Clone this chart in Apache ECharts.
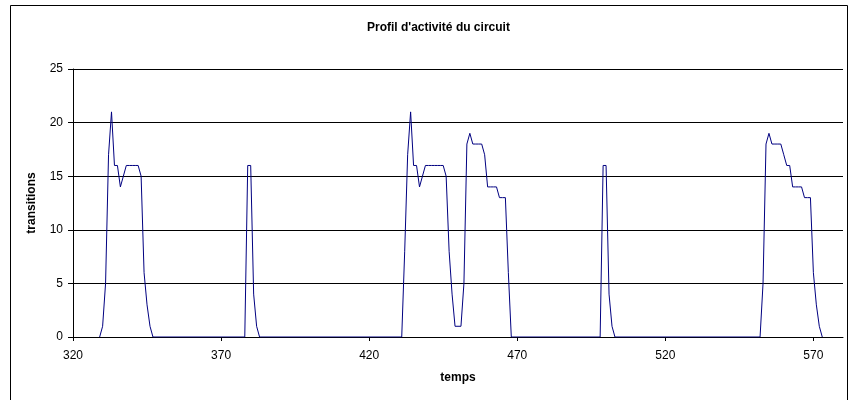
<!DOCTYPE html>
<html>
<head>
<meta charset="utf-8">
<script src="https://cdn.jsdelivr.net/npm/echarts@6/dist/echarts.min.js"></script>
<style>
html,body{margin:0;padding:0;background:#fff;}
#chart{width:851px;height:400px;}
</style>
</head>
<body>
<div id="chart"></div>
<script>
// time (x) and number of transitions (y)
const times = [
  329,330,331,332,333,334,335,336,337,338,339,340,341,342,343,344,345,346,347,
  378,379,380,381,382,383,
  431,432,433,434,435,436,437,438,439,440,441,442,443,444,445,446,447,448,449,450,
  451,452,453,454,455,456,457,458,459,460,461,462,463,464,465,466,467,468,
  498,499,500,501,502,503,
  552,553,554,555,556,557,558,559,560,561,562,563,564,565,566,567,568,569,570,571,572,573
];
const transitions = [
  0,1,5,17,21,16,16,14,15,16,16,16,16,16,15,6,3,1,0,
  0,16,16,4,1,0,
  0,8,17,21,16,16,14,15,16,16,16,16,16,16,16,15,8,4,1,1,
  1,5,18,19,18,18,18,18,17,14,14,14,14,13,13,13,6,0,
  0,16,16,4,1,0,
  0,5,18,19,18,18,18,18,17,16,16,14,14,14,14,13,13,13,6,3,1,0
];
const xTicks = [320,370,420,470,520,570];
const yTicks = [0,5,10,15,20,25];

const FONT = "'Liberation Sans', Arial, sans-serif";
const points = times.map((t, i) => [t, transitions[i]]);

const chart = echarts.init(document.getElementById('chart'), null, {renderer: 'canvas'});
chart.setOption({
  animation: false,
  backgroundColor: '#ffffff',
  title: {
    text: "Profil d'activité du circuit",
    left: 367,
    top: 22,
    padding: 0,
    textStyle: {fontFamily: FONT, fontSize: 12, fontWeight: 'bold', color: '#000'}
  },
  graphic: [{
    type: 'rect',
    shape: {x: 10.5, y: 5.5, width: 837, height: 400},
    style: {fill: 'none', stroke: '#000', lineWidth: 1},
    silent: true
  }],
  grid: {left: 73, right: 8, top: 69, bottom: 63, containLabel: false},
  xAxis: {
    type: 'value',
    min: xTicks[0],
    max: 580,
    interval: 50,
    name: 'temps',
    nameLocation: 'middle',
    nameGap: 35,
    nameTextStyle: {fontFamily: FONT, fontSize: 12, fontWeight: 'bold', color: '#000'},
    axisLine: {show: true, lineStyle: {color: '#000', width: 1}},
    axisTick: {show: true, inside: false, length: 4, customValues: xTicks, lineStyle: {color: '#000'}},
    axisLabel: {customValues: xTicks, margin: 13, fontFamily: FONT, fontSize: 12, color: '#000'},
    splitLine: {show: false}
  },
  yAxis: {
    type: 'value',
    min: yTicks[0],
    max: yTicks[yTicks.length - 1],
    interval: 5,
    name: 'transitions',
    nameLocation: 'middle',
    nameGap: 35,
    nameTextStyle: {fontFamily: FONT, fontSize: 12, fontWeight: 'bold', color: '#000'},
    axisLine: {show: true, lineStyle: {color: '#000', width: 1}},
    axisTick: {show: true, inside: false, length: 5, lineStyle: {color: '#000'}},
    axisLabel: {margin: 10, fontFamily: FONT, fontSize: 12, color: '#000'},
    splitLine: {show: true, lineStyle: {color: '#000', width: 1}}
  },
  series: [{
    type: 'line',
    data: points,
    showSymbol: false,
    symbol: 'none',
    lineStyle: {color: '#000080', width: 1},
    itemStyle: {color: '#000080'},
    silent: true
  }]
});
</script>
</body>
</html>
